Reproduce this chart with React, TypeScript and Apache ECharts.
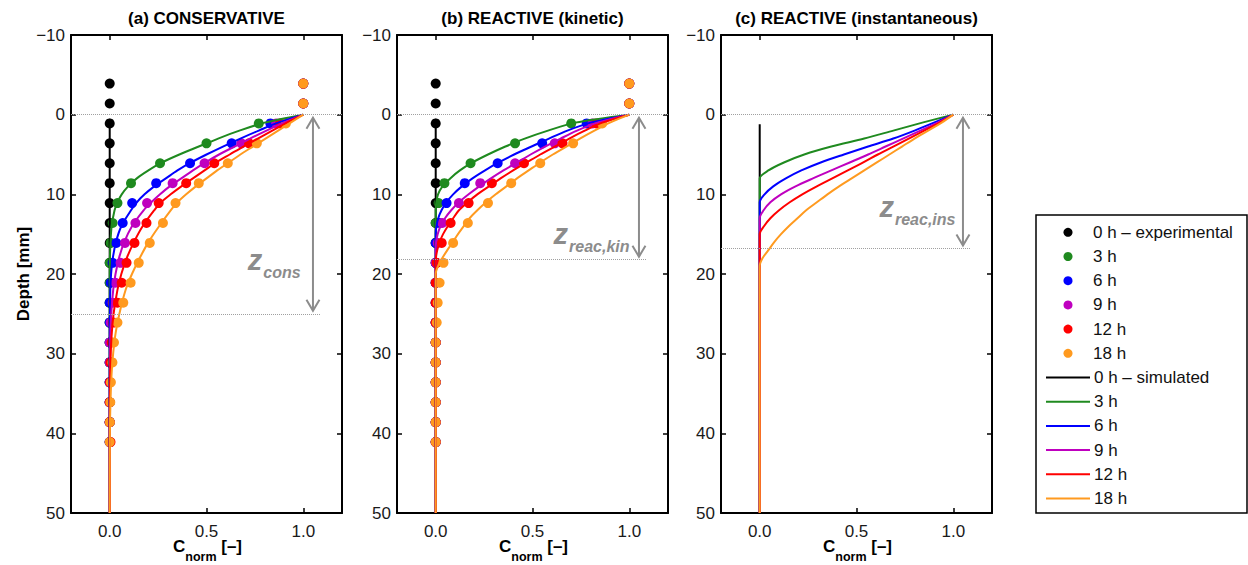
import React, { useEffect, useRef } from 'react';
import * as echarts from 'echarts';

const FONT = "'Liberation Sans', Arial, Helvetica, sans-serif";
const COLORS = ['#000000', '#1f8a1f', '#0000ff', '#bf00bf', '#ff0000', '#ff9a1f'];
const TIMES = ['0 h', '3 h', '6 h', '9 h', '12 h', '18 h'];
const PANEL_TITLES = ['(a) CONSERVATIVE', '(b) REACTIVE (kinetic)', '(c) REACTIVE (instantaneous)'];
const X_TICKS = [0, 0.5, 1];

// experimental depths [mm]
const EXP_DEPTH = [-3.9, -1.4, 1.1, 3.6, 6.1, 8.6, 11.1, 13.6, 16.1, 18.6, 21.1, 23.6, 26.1, 28.6, 31.1, 33.6, 36.1, 38.6, 41.1];

// (a) conservative – experimental
const EXP_A_0 = [0, 0, 0, 0, 0, 0, 0, 0, 0, 0, 0, 0, 0, 0, 0, 0, 0, 0, 0];
const EXP_A_3 = [1, 1, 0.77, 0.5, 0.26, 0.11, 0.04, 0.015, 0.005, 0, 0, 0, 0, 0, 0, 0, 0, 0, 0];
const EXP_A_6 = [1, 1, 0.83, 0.63, 0.415, 0.24, 0.116, 0.067, 0.034, 0.015, 0.005, 0, 0, 0, 0, 0, 0, 0, 0];
const EXP_A_9 = [1, 1, 0.86, 0.68, 0.49, 0.325, 0.193, 0.133, 0.079, 0.056, 0.03, 0.015, 0.005, 0, 0, 0, 0, 0, 0];
const EXP_A_12 = [1, 1, 0.88, 0.72, 0.54, 0.395, 0.253, 0.19, 0.128, 0.087, 0.062, 0.04, 0.02, 0.01, 0.004, 0.002, 0, 0, 0.004];
const EXP_A_18 = [1, 1, 0.91, 0.76, 0.61, 0.46, 0.34, 0.275, 0.207, 0.15, 0.108, 0.07, 0.04, 0.022, 0.014, 0.006, 0.003, 0.001, 0];

// (b) reactive kinetic – experimental
const EXP_B_0 = [0, 0, 0, 0, 0, 0, 0, 0, 0, 0, 0, 0, 0, 0, 0, 0, 0, 0, 0];
const EXP_B_3 = [1, 1, 0.7, 0.41, 0.18, 0.045, 0.015, 0, 0, 0, 0, 0, 0, 0, 0, 0, 0, 0, 0];
const EXP_B_6 = [1, 1, 0.78, 0.55, 0.32, 0.15, 0.056, 0.02, 0, 0, 0, 0, 0, 0, 0, 0, 0, 0, 0];
const EXP_B_9 = [1, 1, 0.81, 0.615, 0.41, 0.23, 0.12, 0.034, 0.01, 0, 0, 0, 0, 0, 0, 0, 0, 0, 0];
const EXP_B_12 = [1, 1, 0.83, 0.655, 0.456, 0.29, 0.17, 0.077, 0.031, 0.005, 0, 0, 0, 0, 0, 0, 0, 0, 0];
const EXP_B_18 = [1, 1, 0.86, 0.71, 0.54, 0.39, 0.27, 0.166, 0.09, 0.04, 0.02, 0.01, 0.005, 0, 0, 0, 0, 0, 0];

// (a) simulated
const SIM_A_DEPTH = [0, 1, 2, 3, 4, 5, 6, 7, 8, 9, 10, 11, 12, 14, 16, 18, 20, 22, 25, 28, 32, 36, 40, 50];
const SIM_A_3 = [1, 0.8, 0.67, 0.56, 0.46, 0.36, 0.27, 0.2, 0.14, 0.095, 0.062, 0.04, 0.025, 0.01, 0.004, 0.001, 0, 0, 0, 0, 0, 0, 0, 0];
const SIM_A_6 = [1, 0.87, 0.77, 0.675, 0.585, 0.5, 0.42, 0.35, 0.29, 0.23, 0.18, 0.14, 0.11, 0.06, 0.032, 0.016, 0.007, 0.003, 0.001, 0, 0, 0, 0, 0];
const SIM_A_9 = [1, 0.9, 0.81, 0.725, 0.645, 0.565, 0.495, 0.43, 0.37, 0.31, 0.26, 0.215, 0.175, 0.115, 0.075, 0.048, 0.03, 0.018, 0.008, 0.003, 0.001, 0, 0, 0];
const SIM_A_12 = [1, 0.915, 0.84, 0.765, 0.69, 0.62, 0.55, 0.49, 0.43, 0.37, 0.315, 0.265, 0.23, 0.17, 0.125, 0.088, 0.06, 0.04, 0.02, 0.009, 0.003, 0.001, 0, 0];
const SIM_A_18 = [1, 0.935, 0.87, 0.805, 0.74, 0.675, 0.615, 0.555, 0.5, 0.445, 0.395, 0.35, 0.315, 0.255, 0.2, 0.155, 0.115, 0.082, 0.05, 0.027, 0.011, 0.004, 0.001, 0];

// (b) simulated
const SIM_B_DEPTH = [0, 1, 2, 3, 4, 5, 6, 7, 8, 9, 10, 11, 12, 13, 14, 15, 16, 17, 18, 19, 20, 50];
const SIM_B_3 = [1, 0.72, 0.58, 0.46, 0.36, 0.27, 0.19, 0.125, 0.075, 0.035, 0.012, 0.003, 0, 0, 0, 0, 0, 0, 0, 0, 0, 0];
const SIM_B_6 = [1, 0.8, 0.68, 0.585, 0.495, 0.405, 0.325, 0.255, 0.19, 0.135, 0.09, 0.055, 0.03, 0.013, 0.004, 0, 0, 0, 0, 0, 0, 0];
const SIM_B_9 = [1, 0.835, 0.73, 0.645, 0.565, 0.49, 0.42, 0.35, 0.285, 0.225, 0.17, 0.12, 0.08, 0.048, 0.025, 0.01, 0.002, 0, 0, 0, 0, 0];
const SIM_B_12 = [1, 0.86, 0.77, 0.69, 0.615, 0.54, 0.47, 0.4, 0.335, 0.275, 0.215, 0.165, 0.12, 0.09, 0.062, 0.038, 0.02, 0.008, 0.001, 0, 0, 0];
const SIM_B_18 = [1, 0.9, 0.82, 0.745, 0.675, 0.605, 0.54, 0.48, 0.42, 0.365, 0.31, 0.26, 0.215, 0.175, 0.145, 0.115, 0.088, 0.06, 0.034, 0.012, 0, 0];

// (c) simulated
const SIM_C_DEPTH = [0, 1, 2, 3, 4, 5, 6, 7, 8, 9, 10, 11, 12, 13, 14, 15, 16, 17, 18, 19, 50];
const SIM_C_3 = [1, 0.84, 0.69, 0.54, 0.37, 0.23, 0.125, 0.045, 0, 0, 0, 0, 0, 0, 0, 0, 0, 0, 0, 0, 0];
const SIM_C_6 = [1, 0.9, 0.8, 0.69, 0.56, 0.435, 0.315, 0.215, 0.135, 0.07, 0.025, 0, 0, 0, 0, 0, 0, 0, 0, 0, 0];
const SIM_C_9 = [1, 0.92, 0.83, 0.74, 0.65, 0.56, 0.465, 0.37, 0.275, 0.185, 0.11, 0.055, 0.02, 0, 0, 0, 0, 0, 0, 0, 0];
const SIM_C_12 = [1, 0.93, 0.85, 0.77, 0.69, 0.61, 0.535, 0.455, 0.375, 0.295, 0.22, 0.155, 0.1, 0.055, 0.022, 0, 0, 0, 0, 0, 0];
const SIM_C_18 = [1, 0.94, 0.87, 0.8, 0.735, 0.67, 0.605, 0.54, 0.475, 0.41, 0.35, 0.295, 0.24, 0.195, 0.15, 0.11, 0.075, 0.045, 0.015, 0, 0];

// 0 h simulated (x = 0) depth range per panel
const SIM_0_DEPTH = [[0.5, 50], [0.5, 50], [1.2, 50]];
const SIM_0_X = [0, 0];

// penetration depths and annotation anchors
const Z_DEPTH = [25, 18.2, 16.8];
const Z_SUB = ['cons', 'reac,kin', 'reac,ins'];
const ARROW_X = 1.05;
const DOT_END_X = 1.09;
const Z_LABEL_POS = [[0.85, 18.6], [0.805, 15.4], [0.815, 12.0]];

const EXP_SETS = [
  [EXP_A_0, EXP_A_3, EXP_A_6, EXP_A_9, EXP_A_12, EXP_A_18],
  [EXP_B_0, EXP_B_3, EXP_B_6, EXP_B_9, EXP_B_12, EXP_B_18],
];
const SIM_SETS = [
  { depth: SIM_A_DEPTH, values: [SIM_A_3, SIM_A_6, SIM_A_9, SIM_A_12, SIM_A_18] },
  { depth: SIM_B_DEPTH, values: [SIM_B_3, SIM_B_6, SIM_B_9, SIM_B_12, SIM_B_18] },
  { depth: SIM_C_DEPTH, values: [SIM_C_3, SIM_C_6, SIM_C_9, SIM_C_12, SIM_C_18] },
];

const GRID_LEFT = [71, 397, 721];
const GRID_TOP = 35;
const GRID_W = 271;
const GRID_H = 478;

function buildOption() {
  const grid: any[] = [];
  const xAxis: any[] = [];
  const yAxis: any[] = [];
  const series: any[] = [];
  const lineAxis = { show: true, onZero: false, lineStyle: { color: '#000', width: 2 } };
  const tick = { show: true, inside: true, length: 5, lineStyle: { color: '#000', width: 1.5 } };

  for (let p = 0; p < 3; p++) {
    grid.push({
      left: GRID_LEFT[p], top: GRID_TOP, width: GRID_W, height: GRID_H,
      containLabel: false, outerBoundsMode: 'none',
    });
    xAxis.push({
      gridIndex: p, type: 'value', min: -0.2, max: 1.2, position: 'bottom',
      axisLine: lineAxis,
      axisTick: { ...tick, customValues: X_TICKS },
      axisLabel: {
        customValues: X_TICKS, formatter: (v: number) => v.toFixed(1),
        color: '#1a1a1a', fontSize: 17, fontFamily: FONT, margin: 10,
      },
      splitLine: { show: false },
    });
    xAxis.push({
      gridIndex: p, type: 'value', min: -0.2, max: 1.2, position: 'top',
      axisLine: lineAxis,
      axisTick: { ...tick, customValues: X_TICKS },
      axisLabel: { show: false },
      splitLine: { show: false },
    });
    yAxis.push({
      gridIndex: p, type: 'value', inverse: true, min: -10, max: 50, interval: 10, position: 'left',
      axisLine: lineAxis, axisTick: tick,
      axisLabel: {
        formatter: (v: number) => (v < 0 ? '\u2212' + Math.abs(v) : String(v)),
        color: '#1a1a1a', fontSize: 17, fontFamily: FONT, margin: 6,
      },
      splitLine: { show: false },
      name: p === 0 ? 'Depth [mm]' : '',
      nameLocation: 'middle', nameGap: 39, nameRotate: 90,
      nameTextStyle: { fontSize: 17, fontWeight: 'bold', color: '#000', fontFamily: FONT },
    });
    yAxis.push({
      gridIndex: p, type: 'value', inverse: true, min: -10, max: 50, interval: 10, position: 'right',
      axisLine: lineAxis, axisTick: tick, axisLabel: { show: false }, splitLine: { show: false },
    });

    // experimental points
    if (p < 2) {
      EXP_SETS[p].forEach((vals, k) => {
        series.push({
          type: 'scatter', name: TIMES[k] + ' exp', xAxisIndex: 2 * p, yAxisIndex: 2 * p,
          symbol: 'circle', symbolSize: 10,
          itemStyle: { color: COLORS[k], opacity: 1 },
          data: vals.map((x, i) => [x, EXP_DEPTH[i]]),
          z: 3,
        });
      });
    }
    // 0 h simulated
    series.push({
      type: 'line', name: '0 h sim', xAxisIndex: 2 * p, yAxisIndex: 2 * p,
      showSymbol: false, symbol: 'none',
      lineStyle: { color: COLORS[0], width: 2 },
      data: SIM_0_DEPTH[p].map((d, i) => [SIM_0_X[i], d]),
      z: 4,
      markLine: {
        silent: true, symbol: 'none', animation: false,
        label: { show: false },
        lineStyle: { color: '#a0a0a0', type: 'dotted', width: 1 },
        data: [
          { yAxis: 0 },
          [{ coord: [-0.2, Z_DEPTH[p]] }, { coord: [DOT_END_X, Z_DEPTH[p]] }],
        ],
      },
    });
    SIM_SETS[p].values.forEach((vals, k) => {
      series.push({
        type: 'line', name: TIMES[k + 1] + ' sim', xAxisIndex: 2 * p, yAxisIndex: 2 * p,
        showSymbol: false, symbol: 'none', smooth: 0.3,
        lineStyle: { color: COLORS[k + 1], width: 2 },
        data: vals.map((x, i) => [x, SIM_SETS[p].depth[i]]),
        z: 4,
      });
    });
  }

  return {
    animation: false,
    backgroundColor: '#ffffff',
    textStyle: { fontFamily: FONT },
    grid, xAxis, yAxis, series,
  };
}

export default function App() {
  const ref = useRef<HTMLDivElement>(null);
  useEffect(() => {
    const chart = echarts.init(ref.current as HTMLDivElement, null, { renderer: 'svg' });
    chart.setOption(buildOption());

    const graphics: any[] = [];
    // titles and x-axis names
    PANEL_TITLES.forEach((t, p) => {
      const cx = GRID_LEFT[p] + GRID_W / 2;
      graphics.push({
        type: 'text', x: cx, y: 18,
        style: { text: t, fill: '#000', font: `bold 17px ${FONT}`, textAlign: 'center', textVerticalAlign: 'middle' },
      });
      graphics.push({
        type: 'text', x: cx + 1, y: 563,
        style: {
          text: '{c|C}{s|norm}{c| [\u2013]}',
          textAlign: 'center', textVerticalAlign: 'bottom',
          rich: {
            c: { fill: '#000', fontSize: 17, fontWeight: 'bold', fontFamily: FONT, verticalAlign: 'bottom', padding: [0, 0, 8, 0] },
            s: { fill: '#000', fontSize: 12.5, fontWeight: 'bold', fontFamily: FONT, verticalAlign: 'bottom' },
          },
        },
      });
    });
    // arrows and z labels
    const gray = '#8c8c8c';
    for (let p = 0; p < 3; p++) {
      const top = chart.convertToPixel({ gridIndex: p }, [ARROW_X, 0]) as number[];
      const bot = chart.convertToPixel({ gridIndex: p }, [ARROW_X, Z_DEPTH[p]]) as number[];
      const x = top[0];
      const yT = top[1] + 3;
      const yB = bot[1] - 3;
      graphics.push({ type: 'line', shape: { x1: x, y1: yT + 1, x2: x, y2: yB - 1 }, style: { stroke: gray, lineWidth: 2 }, z: 5 });
      graphics.push({ type: 'polyline', shape: { points: [[x - 6.5, yT + 11], [x, yT], [x + 6.5, yT + 11]] }, style: { stroke: gray, lineWidth: 2, fill: 'none' }, z: 5 });
      graphics.push({ type: 'polyline', shape: { points: [[x - 6.5, yB - 11], [x, yB], [x + 6.5, yB - 11]] }, style: { stroke: gray, lineWidth: 2, fill: 'none' }, z: 5 });
      const lp = chart.convertToPixel({ gridIndex: p }, Z_LABEL_POS[p]) as number[];
      graphics.push({
        type: 'text', x: lp[0], y: lp[1], z: 5,
        style: {
          text: `{z|z}{s|${Z_SUB[p]}}`,
          textAlign: 'center', textVerticalAlign: 'middle',
          rich: {
            z: { fill: gray, fontSize: 29, fontWeight: 'bold', fontStyle: 'italic', fontFamily: FONT, verticalAlign: 'bottom', padding: [0, 1, 6, 0] },
            s: { fill: gray, fontSize: 16, fontWeight: 'bold', fontStyle: 'italic', fontFamily: FONT, verticalAlign: 'bottom' },
          },
        },
      });
    }
    // legend
    const LX = 1036, LY = 215, LW = 211, LH = 298;
    graphics.push({ type: 'rect', shape: { x: LX, y: LY, width: LW, height: LH }, style: { fill: '#fff', stroke: '#000', lineWidth: 1.5 }, z: 6 });
    const rowY0 = 232.3, rowStep = 24.2;
    const labels = [
      ...TIMES.map((t, k) => (k === 0 ? t + ' \u2013 experimental' : t)),
      ...TIMES.map((t, k) => (k === 0 ? t + ' \u2013 simulated' : t)),
    ];
    labels.forEach((lab, r) => {
      const y = rowY0 + r * rowStep;
      const k = r % 6;
      if (r < 6) {
        graphics.push({ type: 'circle', shape: { cx: 1068, cy: y, r: 4.5 }, style: { fill: COLORS[k] }, z: 7 });
      } else {
        graphics.push({ type: 'line', shape: { x1: 1046, y1: y, x2: 1090, y2: y }, style: { stroke: COLORS[k], lineWidth: 2 }, z: 7 });
      }
      graphics.push({
        type: 'text', x: r < 6 ? 1093 : 1094, y, z: 7,
        style: { text: lab, fill: '#111', font: `17px ${FONT}`, textAlign: 'left', textVerticalAlign: 'middle' },
      });
    });
    chart.setOption({ graphic: graphics });

    return () => chart.dispose();
  }, []);
  return <div ref={ref} style={{ position: 'fixed', left: 0, top: 0, width: 1248, height: 565 }} />;
}
